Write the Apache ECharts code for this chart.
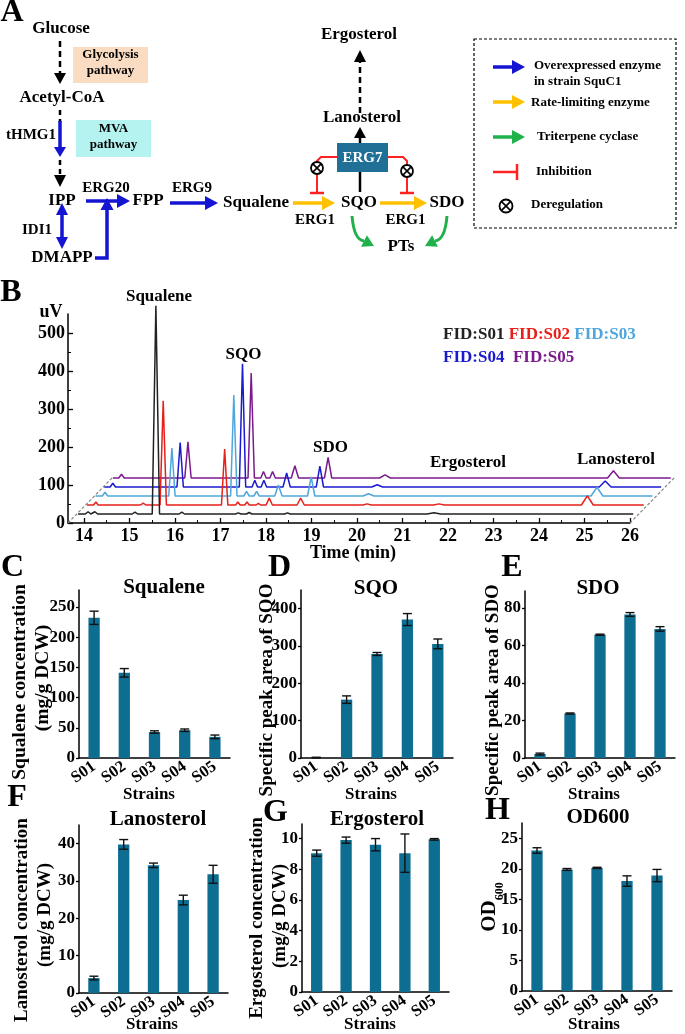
<!DOCTYPE html>
<html><head><meta charset="utf-8">
<script src="https://cdn.jsdelivr.net/npm/echarts@6/dist/echarts.min.js"></script>
<style>html,body{margin:0;padding:0;background:#fff}#c{width:685px;height:1034px}</style>
</head><body><div id="c"></div>
<script>
// ---------------- DATA ----------------
const strains = ['S01','S02','S03','S04','S05'];
const squalene = [232, 141, 43, 46, 35];
const squaleneErr = [11, 7, 2, 2, 3];
const sqo = [1, 156, 278, 370, 305];
const sqoErr = [1, 10, 4, 16, 13];
const sdo = [2.1, 23.7, 65.7, 76.5, 68.8];
const sdoErr = [0.5, 0.3, 0.3, 1.0, 1.2];
const lanosterol = [4.0, 39.8, 34.2, 24.9, 31.8];
const lanosterolErr = [0.5, 1.3, 0.6, 1.3, 2.4];
const ergosterol = [9.05, 9.9, 9.6, 9.05, 9.95];
const ergosterolErr = [0.2, 0.2, 0.4, 1.25, 0.05];
const od600 = [23.0, 19.9, 20.15, 18.0, 18.9];
const od600Err = [0.45, 0.15, 0.1, 0.85, 1.0];

const squaleneTicks = [0, 50, 100, 150, 200, 250];
const sqoTicks = [0, 100, 200, 300, 400];
const sdoTicks = [0, 20, 40, 60, 80];
const lanosterolTicks = [0, 10, 20, 30, 40];
const ergosterolTicks = [0, 2, 4, 6, 8, 10];
const od600Ticks = [0, 5, 10, 15, 20, 25];

const timeTicks = [14, 15, 16, 17, 18, 19, 20, 21, 22, 23, 24, 25, 26];
const timeMinorTicks = [14.5, 15.5, 16.5, 17.5, 18.5, 19.5, 20.5, 21.5, 22.5, 23.5, 24.5, 25.5];
const uvTicks = [0, 100, 200, 300, 400, 500];
const uvMinorTicks = [50, 150, 250, 350, 450];

// chromatogram traces: [time (min), signal (uV)]
const traceS01 = [[13.68,0],[13.84,0],[13.9,6],[13.96,0],[13.99,0],[14.05,6],[14.11,0],[14.87,0],[14.93,5],[14.99,0],
  [15.31,0],[15.39,548],[15.47,0],[15.9,0],[15.96,5],[16.02,0],[17.14,0],[17.2,3],[17.26,0],[17.38,0],[17.44,4],[17.5,0],
  [18.22,0],[18.28,3],[18.34,0],[21.35,0],[21.5,3],[21.65,0],[25.88,0]];
const traceS02 = [[13.68,0],[13.83,0],[13.88,8],[13.93,0],[14.86,0],[14.92,5],[14.98,0],[15.29,0],[15.36,274],[15.43,0],
  [16.64,0],[16.71,147],[16.78,0],[16.95,0],[17.0,8],[17.05,0],[17.15,0],[17.2,8],[17.25,0],[17.4,0],[17.45,4],[17.5,0],
  [17.62,0],[17.69,18],[17.76,0],[18.3,0],[18.38,18],[18.46,0],[19.75,0],[19.84,3],[19.93,0],[21.3,0],[21.42,3],[21.54,0],
  [24.55,0],[24.68,24],[24.81,0],[25.92,0]];
const traceS03 = [[13.68,0],[13.83,0],[13.89,10],[13.95,0],[15.29,0],[15.36,126],[15.43,0],[16.65,0],[16.72,266],[16.79,0],
  [16.94,0],[17.0,12],[17.06,0],[17.16,0],[17.22,12],[17.28,0],[17.62,0],[17.7,29],[17.78,0],[18.34,0],[18.42,50],[18.5,0],
  [19.56,0],[19.68,6],[19.8,0],[24.57,0],[24.7,23],[24.83,0],[25.92,0]];
const traceS04 = [[13.68,0],[13.81,0],[13.87,10],[13.93,0],[15.28,0],[15.35,117],[15.42,0],[16.65,0],[16.72,324],[16.79,0],
  [16.93,0],[16.99,18],[17.05,0],[17.13,0],[17.19,18],[17.25,0],[17.61,0],[17.69,37],[17.77,0],[18.34,0],[18.42,55],[18.5,0],
  [19.56,0],[19.68,6],[19.8,0],[24.56,0],[24.69,16],[24.82,0],[25.92,0]];
const traceS05 = [[13.68,0],[13.81,0],[13.87,10],[13.93,0],[15.26,0],[15.33,95],[15.4,0],[16.65,0],[16.72,276],[16.79,0],
  [16.93,0],[16.99,17],[17.05,0],[17.13,0],[17.19,17],[17.25,0],[17.6,0],[17.68,32],[17.76,0],[18.33,0],[18.41,54],[18.49,0],
  [19.54,0],[19.66,8],[19.78,0],[24.55,0],[24.68,19],[24.81,0],[25.94,0]];
const traceNames = ['FID:S01','FID:S02','FID:S03','FID:S04','FID:S05'];

// ---------------- STYLE / LAYOUT ----------------
const F = '"Liberation Serif","Times New Roman",serif';
const BLUE = '#1414d2', ORANGE = '#ffc000', GREEN = '#1fb24a', RED = '#ff2222', BAR = '#0d6e92';
const traceColors = ['#222222', '#e8201a', '#4ea6dc', '#1a1ad0', '#7b1a8c'];
const traces = [traceS01, traceS02, traceS03, traceS04, traceS05];

const chart = echarts.init(document.getElementById('c'), null, {renderer: 'canvas'});

const grids = [], xAxes = [], yAxes = [], series = [];
function lab(size, extra) { return Object.assign({color:'#000', fontFamily:F, fontWeight:'bold', fontSize:size}, extra || {}); }

// Panel B main axes grid
const B = {left:68, top:314, w:562, h:209, xmin:13.65, xmax:26, ymax:550, dx:8.7, dy:9};
grids.push({left:B.left, top:B.top, width:B.w, height:B.h, outerBoundsMode:'none', containLabel:false});
xAxes.push({gridIndex:0, type:'value', min:B.xmin, max:B.xmax, position:'bottom',
  axisLine:{show:true, onZero:false, lineStyle:{color:'#000', width:1.5}},
  axisTick:{show:true, inside:true, length:5, customValues:timeTicks, lineStyle:{color:'#000', width:1.3}},
  axisLabel:{show:true, customValues:timeTicks, margin:4, ...lab(18)}, splitLine:{show:false}});
xAxes.push({gridIndex:0, type:'value', min:B.xmin, max:B.xmax, position:'bottom',
  axisLine:{show:false}, axisTick:{show:true, inside:true, length:3, customValues:timeMinorTicks, lineStyle:{color:'#000', width:1}},
  axisLabel:{show:false}, splitLine:{show:false}});
yAxes.push({gridIndex:0, type:'value', min:0, max:B.ymax, position:'left',
  axisLine:{show:true, onZero:false, lineStyle:{color:'#000', width:1.5}},
  axisTick:{show:true, inside:true, length:5, customValues:uvTicks, lineStyle:{color:'#000', width:1.3}},
  axisLabel:{show:true, customValues:uvTicks, margin:3, ...lab(18)}, splitLine:{show:false}});
yAxes.push({gridIndex:0, type:'value', min:0, max:B.ymax, position:'left',
  axisLine:{show:false}, axisTick:{show:true, inside:true, length:3, customValues:uvMinorTicks, lineStyle:{color:'#000', width:1}},
  axisLabel:{show:false}, splitLine:{show:false}});

// trace grids, shifted back in depth
for (let i = 0; i < 5; i++) {
  const g = grids.length;
  grids.push({left:B.left + B.dx*(i+1), top:B.top - B.dy*(i+1), width:B.w, height:B.h, outerBoundsMode:'none', containLabel:false});
  xAxes.push({gridIndex:g, type:'value', min:B.xmin, max:B.xmax, show:false});
  yAxes.push({gridIndex:g, type:'value', min:0, max:B.ymax, show:false});
  series.push({type:'line', name:traceNames[i], xAxisIndex:xAxes.length-1, yAxisIndex:yAxes.length-1,
    data:traces[i], symbol:'none', clip:false, z:20-i, lineStyle:{color:traceColors[i], width:1.5}});
}

// bar panels
const panels = [
  {vals:squalene, errs:squaleneErr, ticks:squaleneTicks, left:79, top:590, w:151, h:168, max:278},
  {vals:sqo, errs:sqoErr, ticks:sqoTicks, left:301, top:590, w:152, h:168, max:449},
  {vals:sdo, errs:sdoErr, ticks:sdoTicks, left:525, top:591, w:150, h:167, max:89},
  {vals:lanosterol, errs:lanosterolErr, ticks:lanosterolTicks, left:79, top:825, w:149, h:168, max:45},
  {vals:ergosterol, errs:ergosterolErr, ticks:ergosterolTicks, left:302, top:824, w:147, h:168, max:10.95},
  {vals:od600, errs:od600Err, ticks:od600Ticks, left:522, top:823, w:150, h:168, max:27.5}
];
function errRender(params, api) {
  const x = api.value(0), v = api.value(1), e = api.value(2);
  const t = api.coord([x, v + e]), b = api.coord([x, Math.max(0, v - e)]);
  const hw = 4.5, st = {stroke:'#111', lineWidth:1.4};
  return {type:'group', children:[
    {type:'line', shape:{x1:t[0], y1:t[1], x2:b[0], y2:b[1]}, style:st},
    {type:'line', shape:{x1:t[0]-hw, y1:t[1], x2:t[0]+hw, y2:t[1]}, style:st},
    {type:'line', shape:{x1:b[0]-hw, y1:b[1], x2:b[0]+hw, y2:b[1]}, style:st}
  ]};
}
panels.forEach(p => {
  const g = grids.length;
  grids.push({left:p.left, top:p.top, width:p.w, height:p.h, outerBoundsMode:'none', containLabel:false});
  xAxes.push({gridIndex:g, type:'category', data:strains,
    axisLine:{show:true, lineStyle:{color:'#000', width:1.5}}, axisTick:{show:false},
    axisLabel:{interval:0, rotate:35, margin:7, ...lab(16.5)}});
  yAxes.push({gridIndex:g, type:'value', min:0, max:p.max,
    axisLine:{show:true, lineStyle:{color:'#000', width:1.5}},
    axisTick:{show:true, inside:false, length:3, customValues:p.ticks, lineStyle:{color:'#000', width:1.3}},
    axisLabel:{customValues:p.ticks, margin:4, ...lab(17)}, splitLine:{show:false}});
  const xi = xAxes.length-1, yi = yAxes.length-1;
  series.push({type:'bar', xAxisIndex:xi, yAxisIndex:yi, data:p.vals, barWidth:11.3,
    itemStyle:{color:BAR}, z:5});
  series.push({type:'custom', xAxisIndex:xi, yAxisIndex:yi, renderItem:errRender, z:6,
    encode:{x:0, y:1}, data:p.vals.map((v, i) => [i, v, p.errs[i]])});
});

// ---------------- GRAPHIC (diagram + texts) ----------------
const G = [];
function T(x, y, s, size, o) { o = o || {};
  G.push({type:'text', x:x, y:y, rotation:o.rot||0, z:60, style:{text:s, fontFamily:F, fontWeight:'bold', fontSize:size,
    fill:o.fill||'#000', align:o.align||'center', verticalAlign:'middle', rich:o.rich}}); }
function L(x1, y1, x2, y2, c, w, dash, z) { G.push({type:'line', z:z||40, shape:{x1, y1, x2, y2}, style:{stroke:c, lineWidth:w, lineDash:dash||null}}); }
function PL(pts, c, w) { G.push({type:'polyline', z:40, shape:{points:pts}, style:{stroke:c, lineWidth:w, fill:null}}); }
function P(pts, c) { G.push({type:'polygon', z:41, shape:{points:pts}, style:{fill:c}}); }
function A(x1, y1, x2, y2, c, w, hl, hw, dash) {
  const dx = x2-x1, dy = y2-y1, len = Math.hypot(dx, dy), ux = dx/len, uy = dy/len;
  const bx = x2-ux*hl, by = y2-uy*hl;
  L(x1, y1, bx+ux, by+uy, c, w, dash);
  P([[x2, y2], [bx-uy*hw/2, by+ux*hw/2], [bx+uy*hw/2, by-ux*hw/2]], c);
}
function HEAD(tx, ty, bx, by, c, hw) {
  const dx = tx-bx, dy = ty-by, len = Math.hypot(dx, dy), ux = dx/len, uy = dy/len;
  P([[tx, ty], [bx-uy*hw/2, by+ux*hw/2], [bx+uy*hw/2, by-ux*hw/2]], c);
}
function R(x, y, w, h, c) { G.push({type:'rect', z:30, shape:{x, y, width:w, height:h}, style:{fill:c}}); }
function X(cx, cy, r) {
  G.push({type:'circle', z:45, shape:{cx, cy, r}, style:{fill:'#fff', stroke:'#000', lineWidth:1.8}});
  const d = r*0.68; L(cx-d, cy-d, cx+d, cy+d, '#000', 1.6, null, 46); L(cx-d, cy+d, cx+d, cy-d, '#000', 1.6, null, 46);
}

// Panel A
T(12, 13, 'A', 32);
T(61, 29, 'Glucose', 17);
R(73, 47, 75, 36, '#f9dcc2'); T(110.5, 55, 'Glycolysis', 13); T(110.5, 71, 'pathway', 13);
A(60, 41, 60, 84, '#000', 2.5, 11, 12, [6, 4]);
T(62, 98, 'Acetyl-CoA', 17);
L(60, 110, 60, 122, '#000', 2.5, [5, 4]);
A(60, 121, 60, 157, BLUE, 3.5, 10, 12);
L(60, 160, 60, 176, '#000', 2.5, [5, 4]);
HEAD(60, 187, 60, 175, '#000', 12);
T(31, 135, 'tHMG1', 15);
R(76, 120, 75, 37, '#b4f3ef'); T(113.5, 129, 'MVA', 13); T(113.5, 145, 'pathway', 13);
T(62, 201, 'IPP', 17);
T(106, 188, 'ERG20', 15);
A(86, 201, 130, 201, BLUE, 3.5, 13, 14);
T(148, 201, 'FPP', 17);
T(192, 188, 'ERG9', 15);
A(170, 203, 218, 203, BLUE, 3.5, 13, 14);
T(256, 203, 'Squalene', 17);
T(37, 230, 'IDI1', 15);
L(62, 214, 62, 238, BLUE, 3.5);
HEAD(62, 203, 62, 215, BLUE, 12); HEAD(62, 249, 62, 237, BLUE, 12);
T(62, 258, 'DMAPP', 17);
PL([[95, 258], [107, 258], [107, 209]], BLUE, 3.5);
HEAD(107, 198, 107, 210, BLUE, 13);

T(359, 35, 'Ergosterol', 17);
A(360, 113, 360, 50, '#000', 2.5, 12, 12, [6, 4]);
T(362, 118, 'Lanosterol', 17);
A(360, 143, 360, 127, '#000', 2.5, 11, 12);
R(337, 143, 51, 29, '#1f6f96'); T(362.5, 158, 'ERG7', 15, {fill:'#fff'});
L(360, 172, 360, 192, '#000', 2.5);
T(359, 203, 'SQO', 17); T(447, 203, 'SDO', 17);
A(293, 203, 335, 203, ORANGE, 3.5, 13, 14);
A(380, 203, 427, 203, ORANGE, 3.5, 13, 14);
T(315, 220, 'ERG1', 15); T(405.5, 220, 'ERG1', 15);
PL([[337, 157], [321, 157], [317, 161], [317, 193]], RED, 2);
L(310, 193, 324, 193, RED, 2.5);
X(317, 168, 6);
PL([[388, 157], [403, 157], [407, 161], [407, 193]], RED, 2);
L(400, 193, 414, 193, RED, 2.5);
X(407, 171, 6);
G.push({type:'bezierCurve', z:40, shape:{x1:352, y1:216, cpx1:354, cpy1:240, x2:364, y2:241}, style:{stroke:GREEN, lineWidth:3, fill:null}});
HEAD(374, 246, 364, 241, GREEN, 13);
G.push({type:'bezierCurve', z:40, shape:{x1:447, y1:216, cpx1:445, cpy1:240, x2:435, y2:241}, style:{stroke:GREEN, lineWidth:3, fill:null}});
HEAD(425, 246, 435, 241, GREEN, 13);
T(401, 247, 'PTs', 17);

// legend box
G.push({type:'rect', z:30, shape:{x:474, y:39, width:202, height:189}, style:{fill:null, stroke:'#000', lineWidth:1.2, lineDash:[3, 2]}});
A(493, 67, 525, 67, BLUE, 3.5, 13, 14);
T(534, 66, 'Overexpressed enzyme', 13, {align:'left'});
T(534, 82, 'in strain SquC1', 13, {align:'left'});
A(493, 102, 525, 102, ORANGE, 3.5, 13, 14);
T(531, 103, 'Rate-limiting enzyme', 13, {align:'left'});
A(493, 137, 525, 137, GREEN, 3.5, 13, 14);
T(537, 137, 'Triterpene cyclase', 13, {align:'left'});
L(493, 172, 517, 172, RED, 2.5); L(517, 164, 517, 180, RED, 2.5);
T(536, 172, 'Inhibition', 13, {align:'left'});
X(506, 206, 6.5);
T(531, 205, 'Deregulation', 13, {align:'left'});

// Panel B texts
T(11, 293, 'B', 32);
T(51, 312, 'uV', 18);
T(159, 297, 'Squalene', 17);
T(243.5, 355, 'SQO', 17);
T(330.5, 448, 'SDO', 17);
T(468, 463, 'Ergosterol', 17);
T(616, 460, 'Lanosterol', 17);
T(353, 553, 'Time (min)', 18);
L(68, 523, 113, 477, '#888', 1.2, [3, 2]);
L(630, 523, 675, 477, '#888', 1.2, [3, 2]);
const legRich = {k:{fill:traceColors[0]}, r:{fill:traceColors[1]}, c:{fill:traceColors[2]}, b:{fill:traceColors[3]}, p:{fill:traceColors[4]}};
Object.keys(legRich).forEach(k => Object.assign(legRich[k], {fontFamily:F, fontWeight:'bold', fontSize:17}));
T(443, 335, '{k|' + traceNames[0] + '} {r|' + traceNames[1] + '} {c|' + traceNames[2] + '}', 17, {align:'left', rich:legRich});
T(443, 358, '{b|' + traceNames[3] + '}  {p|' + traceNames[4] + '}', 17, {align:'left', rich:legRich});

// bar panel texts
const RV = Math.PI/2;
T(12.5, 568, 'C', 32); T(279.5, 568, 'D', 32); T(512, 568, 'E', 32);
T(17, 798, 'F', 32); T(275.5, 813, 'G', 32); T(497.5, 811, 'H', 32);
T(164, 588, 'Squalene', 21); T(376, 589, 'SQO', 21); T(598, 589, 'SDO', 21);
T(158, 820, 'Lanosterol', 21); T(377, 820, 'Ergosterol', 21); T(598, 818, 'OD600', 21);
T(149, 795, 'Strains', 17); T(371, 795, 'Strains', 17); T(594, 795, 'Strains', 17);
T(152, 1025, 'Strains', 17); T(370, 1025, 'Strains', 17); T(594, 1025, 'Strains', 17);
T(20, 682, 'Squalene concentration', 19.5, {rot:RV}); T(43, 678, '(mg/g DCW)', 19.5, {rot:RV});
T(267, 690, 'Specific peak area of SQO', 19, {rot:RV});
T(493, 690, 'Specific peak area of SDO', 19, {rot:RV});
T(22, 920, 'Lanosterol concentration', 19, {rot:RV}); T(45, 915, '(mg/g DCW)', 19, {rot:RV});
T(257, 918, 'Ergosterol concentration', 19, {rot:RV}); T(280, 916, '(mg/g DCW)', 19, {rot:RV});
T(488, 907, '{a|OD}{s|600}', 21, {rot:RV, rich:{a:{fontFamily:F, fontWeight:'bold', fontSize:21, verticalAlign:'bottom', lineHeight:24},
  s:{fontFamily:F, fontWeight:'bold', fontSize:12, verticalAlign:'bottom', lineHeight:24, padding:[0,0,-6,0]}}});

chart.setOption({
  animation:false, backgroundColor:'#fff',
  grid:grids, xAxis:xAxes, yAxis:yAxes, series:series, graphic:G
});
</script></body></html>
